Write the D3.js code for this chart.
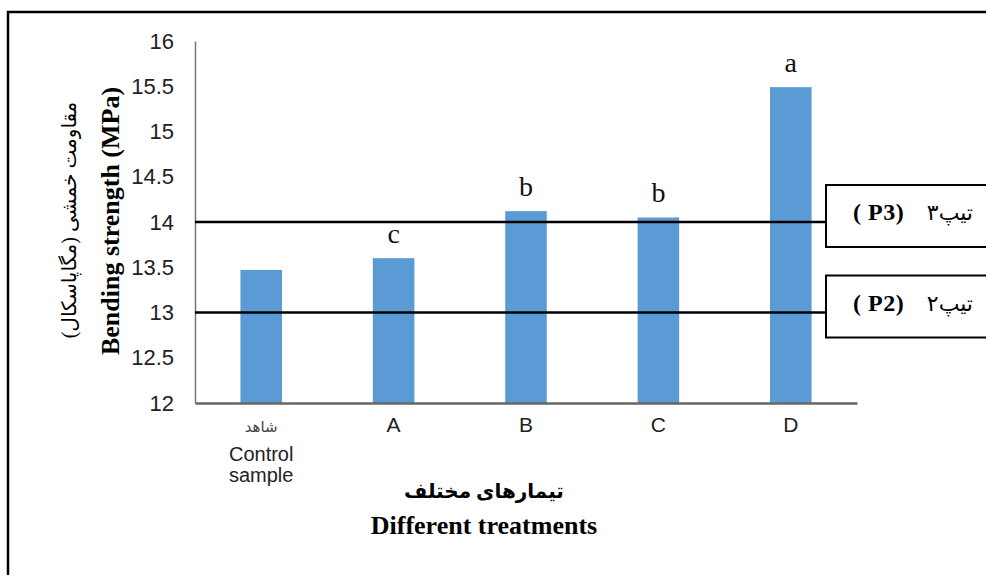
<!DOCTYPE html>
<html><head><meta charset="utf-8">
<script src="https://cdn.jsdelivr.net/npm/d3@7"></script>
<style>body{margin:0;background:#fff}svg{display:block}</style>
</head><body>
<script>
const categories = ["Control", "A", "B", "C", "D"];
const values = [13.47, 13.6, 14.12, 14.05, 15.49];
const letters = ["", "c", "b", "b", "a"];
const yTicks = [12, 12.5, 13, 13.5, 14, 14.5, 15, 15.5, 16];
const refValues = [14, 13];
const refLabelsEn = ["( P3)", "( P2)"];
const refLabelsFa = ["تیپ۳", "تیپ۲"];

(function () {
const W = 986, H = 575;
const svg = d3.select("body").append("svg").attr("width", W).attr("height", H);
const sans = "'Liberation Sans', Arial, 'DejaVu Sans', sans-serif";
const serif = "'Liberation Serif', 'Times New Roman', 'DejaVu Sans', serif";

svg.append("rect").attr("x", 8).attr("y", 12).attr("width", 1000).attr("height", 600)
  .attr("fill", "none").attr("stroke", "#000").attr("stroke-width", 2.5);

const pl = 195, pr = 857, pt = 41, pb = 403;
const x = d3.scaleBand().domain(categories).range([pl, pr]).paddingInner(0.686).paddingOuter(0.343);
const y = d3.scaleLinear().domain([12, 16]).range([pb, pt]);

svg.selectAll("rect.bar").data(values).join("rect").attr("class", "bar")
  .attr("x", (d, i) => x(categories[i])).attr("width", x.bandwidth())
  .attr("y", d => y(d)).attr("height", d => y(12) - y(d))
  .attr("fill", "#5B9BD5");

const ya = svg.append("g").attr("transform", `translate(${pl},0)`)
  .call(d3.axisLeft(y).tickValues(yTicks).tickSize(0).tickPadding(21).tickFormat(d => d));
ya.select(".domain").attr("stroke", "#777").attr("stroke-width", 1.5);
ya.selectAll("text").attr("font-family", sans).attr("font-size", 22).attr("fill", "#222");

const xa = svg.append("g").attr("transform", `translate(0,${pb})`)
  .call(d3.axisBottom(x).tickSize(0).tickPadding(14).tickFormat(d => d === "Control" ? "" : d));
xa.select(".domain").attr("stroke", "#666").attr("stroke-width", 2.5);
xa.selectAll("text").attr("font-family", sans).attr("font-size", 21).attr("fill", "#222");

const cx = x("Control") + x.bandwidth() / 2;
svg.append("text").attr("x", cx).attr("y", 432).attr("text-anchor", "middle")
  .attr("font-family", sans).attr("font-size", 15).attr("fill", "#444").text("شاهد");
svg.append("text").attr("x", cx).attr("y", 461).attr("text-anchor", "middle")
  .attr("font-family", sans).attr("font-size", 20).attr("fill", "#222").text("Control");
svg.append("text").attr("x", cx).attr("y", 482).attr("text-anchor", "middle")
  .attr("font-family", sans).attr("font-size", 20).attr("fill", "#222").text("sample");

svg.selectAll("text.lt").data(values).join("text").attr("class", "lt")
  .attr("x", (d, i) => x(categories[i]) + x.bandwidth() / 2)
  .attr("y", d => y(d) - 15).attr("text-anchor", "middle")
  .attr("font-family", serif).attr("font-size", 28).attr("fill", "#111")
  .text((d, i) => letters[i]);

const boxX = 826;
refValues.forEach((v, i) => {
  svg.append("line").attr("x1", pl).attr("x2", boxX).attr("y1", y(v)).attr("y2", y(v))
    .attr("stroke", "#000").attr("stroke-width", 2.5);
  svg.append("rect").attr("x", boxX).attr("y", y(v) - 37).attr("width", 200).attr("height", 62)
    .attr("fill", "#fff").attr("stroke", "#000").attr("stroke-width", 2);
  svg.append("text").attr("x", 853).attr("y", y(v) - 2).attr("font-family", serif)
    .attr("font-weight", "bold").attr("font-size", 24).attr("letter-spacing", 0.5)
    .attr("fill", "#000").text(refLabelsEn[i]);
  svg.append("text").attr("x", 973).attr("y", y(v) - 2).attr("text-anchor", "end")
    .attr("font-family", serif).attr("font-size", 22).attr("fill", "#000").text(refLabelsFa[i]);
});

svg.append("text").attr("transform", "translate(119,221) rotate(-90)").attr("text-anchor", "middle")
  .attr("font-family", serif).attr("font-weight", "bold").attr("font-size", 26).attr("fill", "#000")
  .text("Bending strength (MPa)");
svg.append("text").attr("transform", "translate(76,220) rotate(-90)").attr("text-anchor", "middle")
  .attr("font-family", serif).attr("font-size", 20).attr("fill", "#000")
  .text("مقاومت خمشی (مگاپاسکال)");

svg.append("text").attr("x", 484).attr("y", 498).attr("text-anchor", "middle")
  .attr("font-family", serif).attr("font-weight", "bold").attr("font-size", 20).attr("fill", "#000")
  .text("تیمارهای مختلف");
svg.append("text").attr("x", 484).attr("y", 534).attr("text-anchor", "middle")
  .attr("font-family", serif).attr("font-weight", "bold").attr("font-size", 26).attr("fill", "#000")
  .text("Different treatments");
})();
</script>
</body></html>
